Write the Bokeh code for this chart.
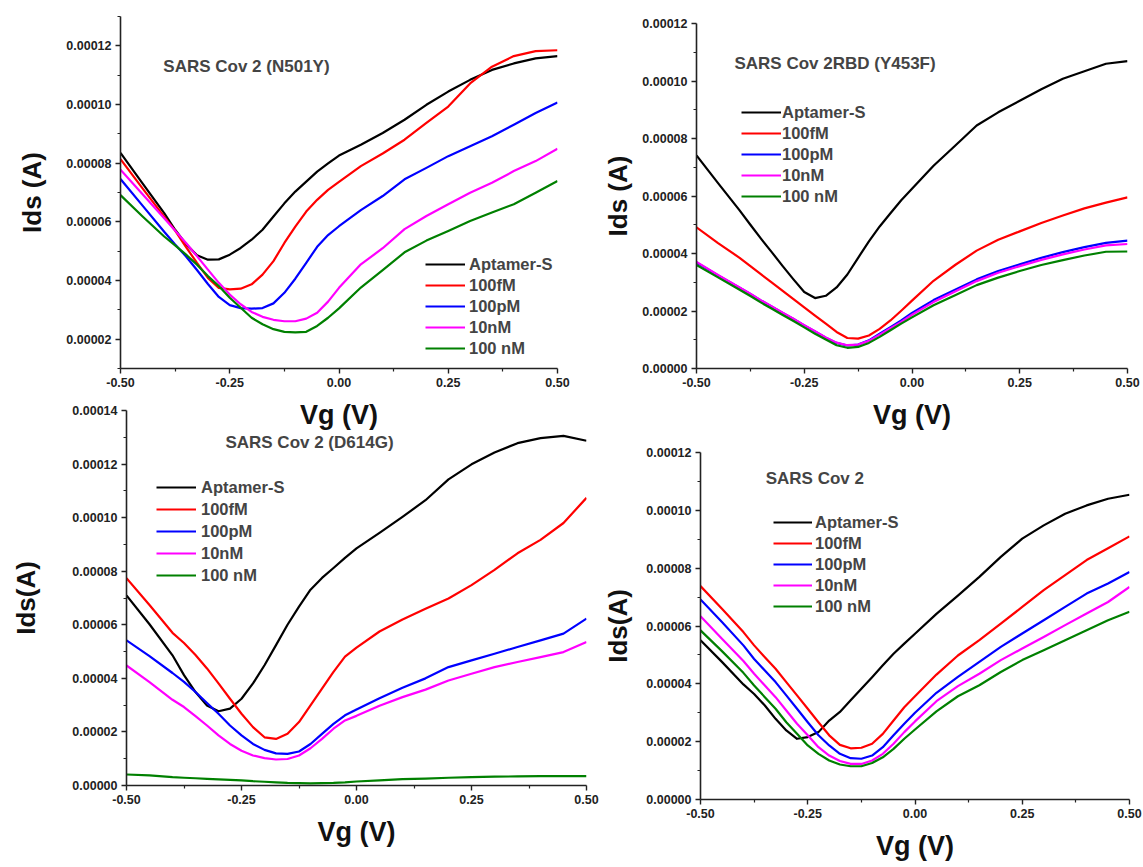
from bokeh.plotting import figure
from bokeh.models import Range1d, FixedTicker, PrintfTickFormatter, Label, Legend, LegendItem
from bokeh.layouts import row, column
from bokeh.embed import file_html
from bokeh.resources import INLINE

FONT = "Liberation Sans"

# ---------------- data (Ids in microamps; converted to A below) ----------------
vg = [-0.50, -0.45, -0.40, -0.375, -0.35, -0.325, -0.30, -0.275, -0.25, -0.225, -0.20,
      -0.175, -0.15, -0.125, -0.10, -0.075, -0.05, -0.025, 0.00, 0.05, 0.10, 0.15,
      0.20, 0.25, 0.30, 0.35, 0.40, 0.45, 0.50]

series_names = ["Aptamer-S", "100fM", "100pM", "10nM", "100 nM"]
series_colors = ["#000000", "#ff0000", "#0000ff", "#ff00ff", "#008000"]

# Panel 1: SARS Cov 2 (N501Y)
n501y_aptamer = [83.5, 73.2, 63.0, 57.3, 52.4, 48.6, 47.1, 47.2, 48.8, 51.1, 53.9, 57.3, 61.8, 66.3, 70.3, 73.7, 77.1, 79.9, 82.6, 86.3, 90.3, 94.8, 99.9, 104.4, 108.4, 111.8, 114.0, 115.7, 116.5]
n501y_100fM = [81.4, 71.5, 61.8, 57.0, 51.4, 46.0, 40.9, 37.5, 37.0, 37.2, 38.7, 42.0, 46.6, 52.8, 58.4, 63.5, 67.5, 70.9, 73.6, 79.0, 83.3, 88.0, 93.7, 99.3, 107.2, 112.9, 116.5, 118.2, 118.5]
n501y_100pM = [74.6, 65.6, 56.6, 52.3, 48.2, 43.6, 38.8, 34.4, 31.6, 30.6, 30.4, 30.6, 32.2, 35.8, 40.6, 46.0, 51.5, 55.5, 58.5, 64.0, 68.8, 74.5, 78.4, 82.4, 85.8, 89.2, 93.1, 97.1, 100.7]
n501y_10nM = [77.8, 69.5, 61.2, 57.0, 52.8, 48.3, 43.7, 39.2, 35.2, 31.9, 29.3, 27.6, 26.6, 26.1, 26.1, 27.0, 29.0, 32.8, 37.5, 45.5, 51.0, 57.5, 62.0, 66.0, 69.9, 73.3, 77.3, 80.7, 84.9]
n501y_100nM = [69.1, 61.9, 55.0, 52.0, 48.8, 45.4, 41.5, 38.1, 34.1, 30.7, 27.3, 25.1, 23.4, 22.5, 22.3, 22.5, 24.5, 27.3, 30.5, 37.6, 43.5, 49.6, 53.6, 56.9, 60.3, 63.2, 66.0, 69.9, 73.9]

# Panel 2: SARS Cov 2RBD (Y453F)
y453f_aptamer = [74.1, 64.5, 55.0, 50.0, 45.1, 40.4, 35.6, 31.0, 26.6, 24.5, 25.3, 28.2, 32.7, 38.5, 44.2, 49.4, 54.0, 58.5, 62.5, 70.5, 77.5, 84.5, 89.1, 93.1, 97.1, 100.8, 103.4, 106.0, 106.9]
y453f_100fM = [49.1, 43.6, 38.5, 35.6, 32.7, 29.9, 27.0, 24.1, 21.3, 18.4, 15.6, 12.7, 10.6, 10.4, 11.5, 13.8, 16.7, 20.1, 23.6, 30.5, 36.0, 41.0, 44.8, 47.7, 50.6, 53.2, 55.7, 57.7, 59.5]
y453f_100pM = [36.9, 32.4, 28.1, 25.9, 23.6, 21.5, 19.3, 17.2, 15.0, 12.9, 10.7, 8.9, 8.0, 8.3, 9.8, 12.1, 14.4, 16.7, 19.3, 23.8, 27.4, 31.0, 33.9, 36.2, 38.5, 40.5, 42.2, 43.7, 44.5]
y453f_10nM = [37.1, 32.5, 28.2, 26.0, 23.7, 21.6, 19.4, 17.3, 15.1, 13.0, 10.8, 9.0, 8.1, 8.3, 9.6, 11.8, 14.0, 16.2, 18.7, 23.1, 26.8, 30.4, 33.3, 35.6, 37.8, 39.7, 41.4, 42.8, 43.3]
y453f_100nM = [36.0, 31.7, 27.4, 25.2, 22.9, 20.8, 18.6, 16.5, 14.3, 12.1, 10.1, 8.1, 7.2, 7.5, 8.9, 11.0, 13.3, 15.6, 17.8, 22.0, 25.5, 29.0, 31.6, 33.9, 36.0, 37.7, 39.3, 40.6, 40.7]

# Panel 3: SARS Cov 2 (D614G)
d614g_aptamer = [71.0, 60.2, 48.6, 41.2, 34.9, 29.9, 27.7, 28.7, 32.4, 38.1, 44.9, 52.4, 60.0, 66.8, 73.1, 77.5, 81.2, 85.0, 88.5, 94.3, 100.3, 106.5, 114.3, 119.9, 124.3, 127.8, 129.7, 130.5, 128.7]
d614g_100fM = [77.4, 67.4, 57.0, 53.2, 48.7, 43.7, 38.1, 32.4, 26.8, 21.8, 18.0, 17.4, 19.3, 23.7, 29.9, 36.2, 42.4, 48.1, 51.5, 57.5, 62.0, 66.0, 69.8, 74.8, 80.5, 86.7, 91.7, 98.0, 107.4]
d614g_100pM = [54.2, 48.3, 42.0, 38.7, 34.9, 30.8, 26.8, 22.4, 18.7, 15.5, 13.3, 12.0, 11.8, 12.7, 15.5, 19.3, 23.0, 26.2, 28.4, 32.6, 36.5, 40.0, 44.2, 46.7, 49.2, 51.7, 54.2, 56.7, 62.3]
d614g_10nM = [44.8, 38.6, 32.0, 29.3, 25.9, 22.4, 18.7, 15.5, 13.0, 11.2, 10.2, 9.7, 9.9, 11.2, 13.9, 17.4, 21.2, 24.3, 26.0, 29.8, 33.0, 35.8, 39.2, 41.7, 44.2, 46.1, 47.9, 49.8, 53.6]
d614g_100nM = [4.1, 3.8, 3.1, 2.9, 2.7, 2.5, 2.3, 2.1, 1.9, 1.6, 1.4, 1.2, 1.0, 0.9, 0.8, 0.9, 1.0, 1.2, 1.5, 1.9, 2.4, 2.6, 2.9, 3.1, 3.3, 3.4, 3.5, 3.5, 3.5]

# Panel 4: SARS Cov 2
wt_aptamer = [55.1, 47.6, 39.8, 36.5, 32.5, 27.9, 23.9, 21.0, 21.6, 23.3, 27.3, 30.3, 34.3, 38.3, 42.3, 46.4, 50.4, 53.9, 57.3, 64.2, 70.5, 77.0, 83.9, 90.2, 94.8, 98.8, 101.7, 104.0, 105.4]
wt_100fM = [73.8, 66.0, 57.9, 53.3, 49.2, 45.2, 40.6, 36.0, 31.4, 26.7, 22.2, 18.9, 17.7, 17.9, 19.3, 22.7, 27.3, 31.9, 35.7, 43.2, 49.8, 55.1, 60.8, 66.6, 72.4, 77.6, 82.8, 86.9, 91.0]
wt_100pM = [69.2, 61.4, 53.3, 48.6, 44.6, 40.6, 36.0, 31.4, 26.7, 22.2, 18.7, 15.8, 14.3, 14.1, 15.2, 18.1, 22.2, 26.2, 30.0, 36.9, 42.4, 47.6, 52.8, 57.4, 62.0, 66.6, 71.2, 74.7, 78.7]
wt_10nM = [63.4, 55.6, 47.9, 43.5, 39.4, 35.4, 30.8, 26.2, 22.2, 18.1, 15.2, 13.3, 12.3, 12.3, 13.5, 15.8, 19.3, 23.3, 27.0, 34.0, 39.2, 43.5, 48.2, 52.2, 56.2, 60.3, 64.3, 68.3, 73.5]
wt_100nM = [58.5, 51.3, 43.8, 39.4, 35.4, 31.4, 26.7, 22.7, 18.7, 15.8, 13.5, 12.1, 11.5, 11.5, 12.6, 14.6, 17.5, 21.0, 24.2, 30.5, 35.7, 39.5, 44.1, 48.2, 51.6, 55.1, 58.5, 62.0, 64.9]

x_ticks = [-0.50, -0.25, 0.00, 0.25, 0.50]
x_minor = [-0.375, -0.125, 0.125, 0.375]
y_ticks_p1 = [0.00002, 0.00004, 0.00006, 0.00008, 0.00010, 0.00012]
y_minor_p1 = [0.00001, 0.00003, 0.00005, 0.00007, 0.00009, 0.00011, 0.00013]
y_ticks_p2 = [0.0, 0.00002, 0.00004, 0.00006, 0.00008, 0.00010, 0.00012]
y_minor_p2 = [0.00001, 0.00003, 0.00005, 0.00007, 0.00009, 0.00011]
y_ticks_p3 = [0.0, 0.00002, 0.00004, 0.00006, 0.00008, 0.00010, 0.00012, 0.00014]
y_minor_p3 = [0.00001, 0.00003, 0.00005, 0.00007, 0.00009, 0.00011, 0.00013]

UA = 1e-6


def make_panel(width, height, borders, y_range, y_ticks, y_minor, ylabel, title,
               title_pos, series, legend_loc, legend_spacing, glyph_w, standoff, ylab_standoff):
    bl, br, bt, bb = borders
    p = figure(width=width, height=height, output_backend="svg", toolbar_location=None,
               x_range=Range1d(-0.5, 0.5), y_range=Range1d(*y_range),
               min_border_left=bl, min_border_right=br, min_border_top=bt, min_border_bottom=bb)
    p.frame_align = False
    p.outline_line_color = None
    p.xgrid.visible = False
    p.ygrid.visible = False
    p.xaxis.ticker = FixedTicker(ticks=x_ticks, minor_ticks=x_minor)
    p.yaxis.ticker = FixedTicker(ticks=y_ticks, minor_ticks=y_minor)
    p.xaxis.formatter = PrintfTickFormatter(format="%.2f")
    p.yaxis.formatter = PrintfTickFormatter(format="%.5f")
    p.xaxis.axis_label = "Vg (V)"
    p.yaxis.axis_label = ylabel
    for ax in (p.xaxis[0], p.yaxis[0]):
        ax.axis_line_width = 1.6
        ax.axis_line_color = "#222222"
        ax.major_tick_line_width = 1.4
        ax.minor_tick_line_width = 1.2
        ax.major_tick_line_color = "#222222"
        ax.minor_tick_line_color = "#222222"
        ax.major_tick_in = 0
        ax.major_tick_out = 5
        ax.minor_tick_in = 0
        ax.minor_tick_out = 3
        ax.major_label_text_font = FONT
        ax.major_label_text_font_style = "bold"
        ax.major_label_text_font_size = "12.5px"
        ax.major_label_text_color = "#222222"
        ax.axis_label_text_font = FONT
        ax.axis_label_text_font_style = "bold"
        ax.axis_label_text_color = "#111111"
    p.xaxis.major_label_standoff = 4
    p.yaxis.major_label_standoff = 4
    p.xaxis.axis_label_text_font_size = "27px"
    p.yaxis.axis_label_text_font_size = "26px"
    p.xaxis.axis_label_standoff = 10
    p.yaxis.axis_label_standoff = ylab_standoff

    items = []
    for name, color, vals in zip(series_names, series_colors, series):
        r = p.line(vg, [v * UA for v in vals], line_color=color, line_width=2.2,
                   line_join="round")
        items.append(LegendItem(label=name, renderers=[r]))
    legend = Legend(items=items, location=legend_loc, border_line_color=None,
                    background_fill_alpha=0, padding=0, margin=0, spacing=legend_spacing,
                    glyph_width=glyph_w, glyph_height=20, label_height=20,
                    label_standoff=standoff, label_text_font=FONT,
                    label_text_font_style="bold", label_text_font_size="16.5px")
    p.add_layout(legend)

    p.add_layout(Label(x=title_pos[0], y=title_pos[1] * UA, text=title,
                       text_font=FONT, text_font_style="bold", text_font_size="17px",
                       text_baseline="middle", text_align="left"))
    return p


p1 = make_panel(600, 432, (120, 43, 16, 63), (0.00001, 0.00013), y_ticks_p1, y_minor_p1,
                "Ids (A)", "SARS Cov 2 (N501Y)", (-0.402, 112.9),
                [n501y_aptamer, n501y_100fM, n501y_100pM, n501y_10nM, n501y_100nM],
                (305, 10), 1, 40, 4, 16)
p2 = make_panel(543, 432, (96, 16, 23, 60), (0.0, 0.00012), y_ticks_p2, y_minor_p2,
                "Ids (A)", "SARS Cov 2RBD (Y453F)", (-0.412, 106.2),
                [y453f_aptamer, y453f_100fM, y453f_100pM, y453f_10nM, y453f_100nM],
                (45, 162), 1, 40, 1, 6)
p3 = make_panel(600, 465, (126, 14, 8, 82), (0.0, 0.00014), y_ticks_p3, y_minor_p3,
                "Ids(A)", "SARS Cov 2 (D614G)", (-0.285, 128.0),
                [d614g_aptamer, d614g_100fM, d614g_100pM, d614g_10nM, d614g_100nM],
                (30, 200), 2, 40, 5, 28)
p4 = make_panel(543, 435, (100, 14, 20, 68), (0.0, 0.00012), y_ticks_p2, y_minor_p2,
                "Ids(A)", "SARS Cov 2", (-0.348, 111.0),
                [wt_aptamer, wt_100fM, wt_100pM, wt_10nM, wt_100nM],
                (73, 183), 1, 39, 3, 10)

p3.border_fill_color = None
p3.background_fill_color = None
p3.margin = (-30, 0, 0, 0)

layout = row(column(p1, p3), column(p2, p4))

open("out.html", "w").write(file_html(layout, INLINE))
